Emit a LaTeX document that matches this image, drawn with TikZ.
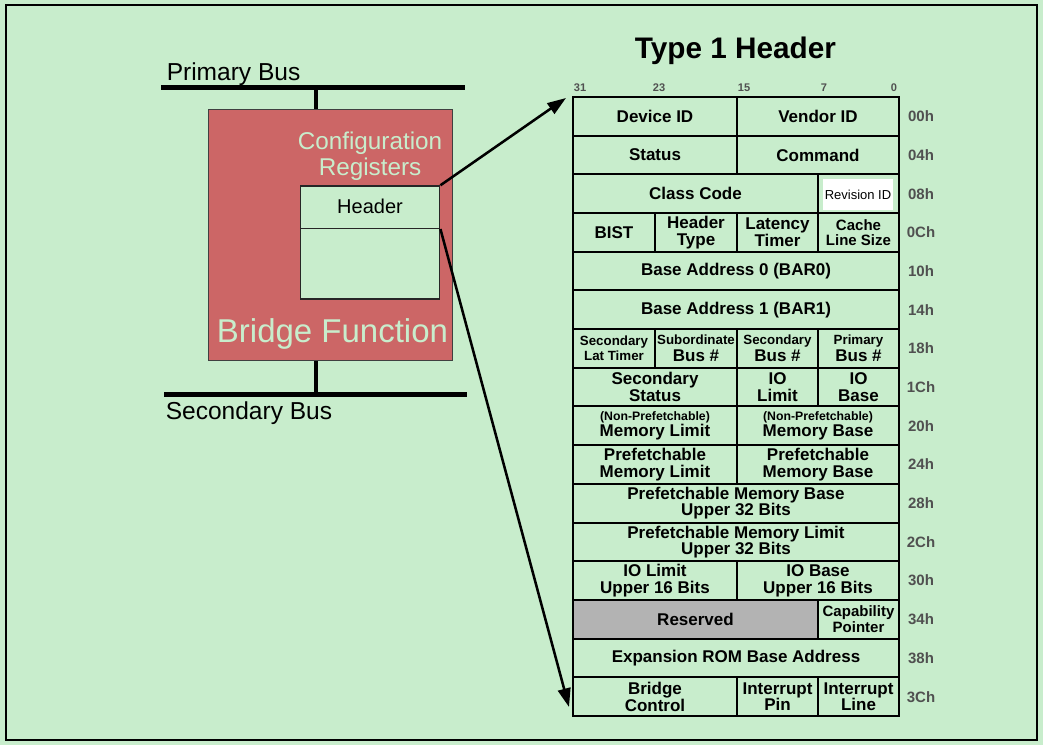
\documentclass[tikz,border=0pt]{standalone}
\usepackage{fontspec}
\setmainfont{Liberation Sans}
\usetikzlibrary{arrows.meta}
\definecolor{bg}{HTML}{C8EDCC}
\definecolor{brick}{HTML}{CC6666}
\definecolor{resgray}{HTML}{B3B3B3}
\definecolor{offgray}{HTML}{505050}
\newcommand\mainfs{\fontsize{12.75pt}{12.4pt}\selectfont\bfseries}
\newcommand\smfs{\fontsize{10pt}{11pt}\selectfont\bfseries}
\newcommand\npfs{\fontsize{9.2pt}{10.5pt}\selectfont\bfseries}
\newcommand\medfs{\fontsize{11.25pt}{11.6pt}\selectfont\bfseries}
\newcommand\regcell[6]{%
  \pgfmathsetmacro\cellw{(#3-#2)*0.75}%
  \pgfmathsetmacro\cellx{(#3+#2)/2}%
  \pgfmathsetmacro\celly{97+38.6875*(#4+0.5)}%
  \node[cellbox,#5,minimum width=\cellw pt] (#1) at (\cellx,\celly) {#6};}
\begin{document}
\begin{tikzpicture}[x=0.75pt,y=-0.75pt,
  cellbox/.style={draw=black,line width=1.5pt,minimum height=29.0156pt,inner sep=0pt,
    align=center,font=\mainfs,text=black},
  offlbl/.style={font=\fontsize{11.25pt}{12pt}\selectfont\bfseries,text=offgray,inner sep=0pt},
  bitlbl/.style={font=\fontsize{8.3pt}{9pt}\selectfont\bfseries,text=offgray,inner sep=0pt},
  bus/.style={line width=3.4pt,black},
  stub/.style={line width=3pt,black},
  conn/.style={line width=1.9pt,black,-{Triangle[length=14pt,width=9.5pt]}},
  lighttxt/.style={text=bg,inner sep=0pt,align=center}
]
\useasboundingbox (0,0) rectangle (1043,745);
\fill[bg] (0,0) rectangle (1043,745);
\draw[line width=1.5pt] (6,5) rectangle (1036.5,740);

% ---------- left: bridge ----------
\coordinate (pbL) at (161,87.5);
\coordinate (pbR) at (465,87.5);
\coordinate (sbL) at (164,394.5);
\coordinate (sbR) at (467,394.5);
\draw[bus] (pbL) -- (pbR);
\draw[bus] (sbL) -- (sbR);
\node[anchor=base west,inner sep=0pt,font=\fontsize{18.4pt}{20pt}\selectfont] (pbtxt) at (166.5,81) {Primary Bus};
\node[anchor=base west,inner sep=0pt,font=\fontsize{18.4pt}{20pt}\selectfont] (sbtxt) at (165.5,419.5) {Secondary Bus};

\node[draw=black!75,line width=1pt,fill=brick,minimum width=183pt,minimum height=188.5pt,inner sep=0pt]
  (brfn) at (330.7,235) {};
\coordinate (stubtop) at (316,87.5);
\coordinate (stubbot) at (316,394.5);
\draw[stub] (stubtop) -- (stubtop |- brfn.north);
\draw[stub] (stubbot |- brfn.south) -- (stubbot);

\node[lighttxt,font=\fontsize{18.2pt}{19.3pt}\selectfont] (cfg) at (370,156) {Configuration\\Registers};
\node[lighttxt,font=\fontsize{24.75pt}{26pt}\selectfont] (bftxt) at (332.5,334) {Bridge Function};

\node[draw=black!85,line width=1.1pt,fill=bg,minimum width=104.55pt,minimum height=31.7pt,inner sep=0pt,
  font=\fontsize{15pt}{16pt}\selectfont] (hdrbox) at (370,207.15) {\raisebox{1.3pt}{Header}};
\node[draw=black!85,line width=1.1pt,fill=bg,minimum width=104.55pt,minimum height=53pt,inner sep=0pt]
  (lowbox) at (370,263.65) {};

% ---------- title ----------
\node[anchor=base,inner sep=0pt,font=\fontsize{22.3pt}{24pt}\selectfont\bfseries] (title) at (735.5,59) {Type 1 Header};

% ---------- bit numbers ----------
\foreach \x/\t in {580/31,659/23,744/15,824/7,894/0}
  \node[bitlbl] (bit\t) at (\x,88) {\t};

% ---------- register table ----------
\regcell{devid}{573}{737}{0}{}{Device ID}
\regcell{venid}{737}{899}{0}{}{Vendor ID}
\regcell{status}{573}{737}{1}{}{Status}
\regcell{command}{737}{899}{1}{}{Command}
\regcell{classcode}{573}{818}{2}{}{Class Code}
\regcell{revcell}{818}{899}{2}{}{}
\node[fill=white,minimum width=52.5pt,minimum height=23.25pt,inner sep=0pt,
  font=\fontsize{9.75pt}{10pt}\selectfont] (revid) at (858,194.5) {Revision ID};
\regcell{bist}{573}{655}{3}{}{BIST}
\regcell{hdrtype}{655}{737}{3}{}{Header\\Type}
\regcell{latency}{737}{818}{3}{}{Latency\\Timer}
\regcell{cache}{818}{899}{3}{font=\medfs}{Cache\\Line Size}
\regcell{bar0}{573}{899}{4}{}{Base Address 0 (BAR0)}
\regcell{bar1}{573}{899}{5}{}{Base Address 1 (BAR1)}
\regcell{seclat}{573}{655}{6}{font=\smfs}{Secondary\\Lat Timer}
\regcell{subbus}{655}{737}{6}{}{{\smfs Subordinate}\\Bus \#}
\regcell{secbus}{737}{818}{6}{}{{\smfs Secondary}\\Bus \#}
\regcell{pribus}{818}{899}{6}{}{{\smfs Primary}\\Bus \#}
\regcell{secstat}{573}{737}{7}{}{Secondary\\Status}
\regcell{iolimit}{737}{818}{7}{}{IO\\Limit}
\regcell{iobase}{818}{899}{7}{}{IO\\Base}
\regcell{npml}{573}{737}{8}{}{{\npfs (Non-Prefetchable)}\\Memory Limit}
\regcell{npmb}{737}{899}{8}{}{{\npfs (Non-Prefetchable)}\\Memory Base}
\regcell{pml}{573}{737}{9}{}{Prefetchable\\Memory Limit}
\regcell{pmb}{737}{899}{9}{}{Prefetchable\\Memory Base}
\regcell{pmbu}{573}{899}{10}{}{Prefetchable Memory Base\\Upper 32 Bits}
\regcell{pmlu}{573}{899}{11}{}{Prefetchable Memory Limit\\Upper 32 Bits}
\regcell{iolu}{573}{737}{12}{}{IO Limit\\Upper 16 Bits}
\regcell{iobu}{737}{899}{12}{}{IO Base\\Upper 16 Bits}
\regcell{reserved}{573}{818}{13}{fill=resgray}{Reserved}
\regcell{capptr}{818}{899}{13}{font=\medfs}{Capability\\Pointer}
\regcell{rom}{573}{899}{14}{}{Expansion ROM Base Address}
\regcell{brctl}{573}{737}{15}{}{Bridge\\Control}
\regcell{intpin}{737}{818}{15}{}{Interrupt\\Pin}
\regcell{intline}{818}{899}{15}{}{Interrupt\\Line}

% ---------- offsets ----------
\foreach \i/\t in {0/00h,1/04h,2/08h,3/0Ch,4/10h,5/14h,6/18h,7/1Ch,8/20h,9/24h,10/28h,11/2Ch,12/30h,13/34h,14/38h,15/3Ch}{
  \pgfmathsetmacro\oy{97+38.6875*(\i+0.5)}
  \node[offlbl] (off\i) at (921,\oy) {\t};
}

% ---------- connectors ----------
\coordinate (tip1) at (566,98);
\coordinate (tip2) at (569,707);
\draw[conn] (hdrbox.north east) -- (tip1);
\draw[conn] (hdrbox.south east) -- (tip2);
\end{tikzpicture}
\end{document}
